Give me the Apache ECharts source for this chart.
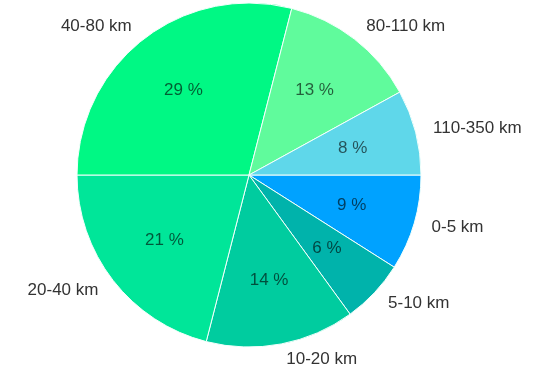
<!DOCTYPE html>
<html>
<head>
<meta charset="utf-8">
<script src="https://cdn.jsdelivr.net/npm/echarts@6/dist/echarts.min.js"></script>
<style>
html, body { margin: 0; padding: 0; background: #fff; }
#chart { width: 545px; height: 371px; }
</style>
</head>
<body>
<div id="chart"></div>
<script>
// distances, in clockwise order from 3 o'clock
var categories = ['0-5 km', '5-10 km', '10-20 km', '20-40 km', '40-80 km', '80-110 km', '110-350 km'];
var shares = [9, 6, 14, 21, 29, 13, 8];
var colors = ['#00a2ff', '#00b3ab', '#00cc9f', '#00e699', '#00f884', '#60fb9c', '#5fd7ea'];

var myChart = echarts.init(document.getElementById('chart'));

var data = categories.map(function (c, i) {
	return { name: c, value: shares[i], itemStyle: { color: colors[i] } };
});
// copy for the percent labels (transparent)
var ghost = categories.map(function (c, i) {
	return { name: c, value: shares[i] };
});

var option = {
	animation: false,
	series: [
		{
			type: 'pie',
			center: [249, 175],
			radius: [0, 172],
			startAngle: 0,
			clockwise: true,
			avoidLabelOverlap: false,
			itemStyle: { borderColor: '#f2fffb', borderWidth: 1 },
			label: {
				position: 'outside',
				formatter: '{b}',
				fontFamily: 'Liberation Sans, Arial, sans-serif',
				fontSize: 17,
				color: '#333',
				distanceToLabelLine: 2
			},
			labelLine: { show: false, length: 16, length2: 0 },
			data: data
		},
		{
			type: 'pie',
			center: [249, 175],
			radius: [36, 172],
			startAngle: 0,
			clockwise: true,
			silent: true,
			itemStyle: { color: 'rgba(0,0,0,0)' },
			label: {
				position: 'inside',
				formatter: '{c} %',
				fontFamily: 'Liberation Sans, Arial, sans-serif',
				fontSize: 17,
				color: 'rgba(0,0,0,0.62)'
			},
			labelLine: { show: false },
			data: ghost
		}
	]
};
myChart.setOption(option);
</script>
</body>
</html>
